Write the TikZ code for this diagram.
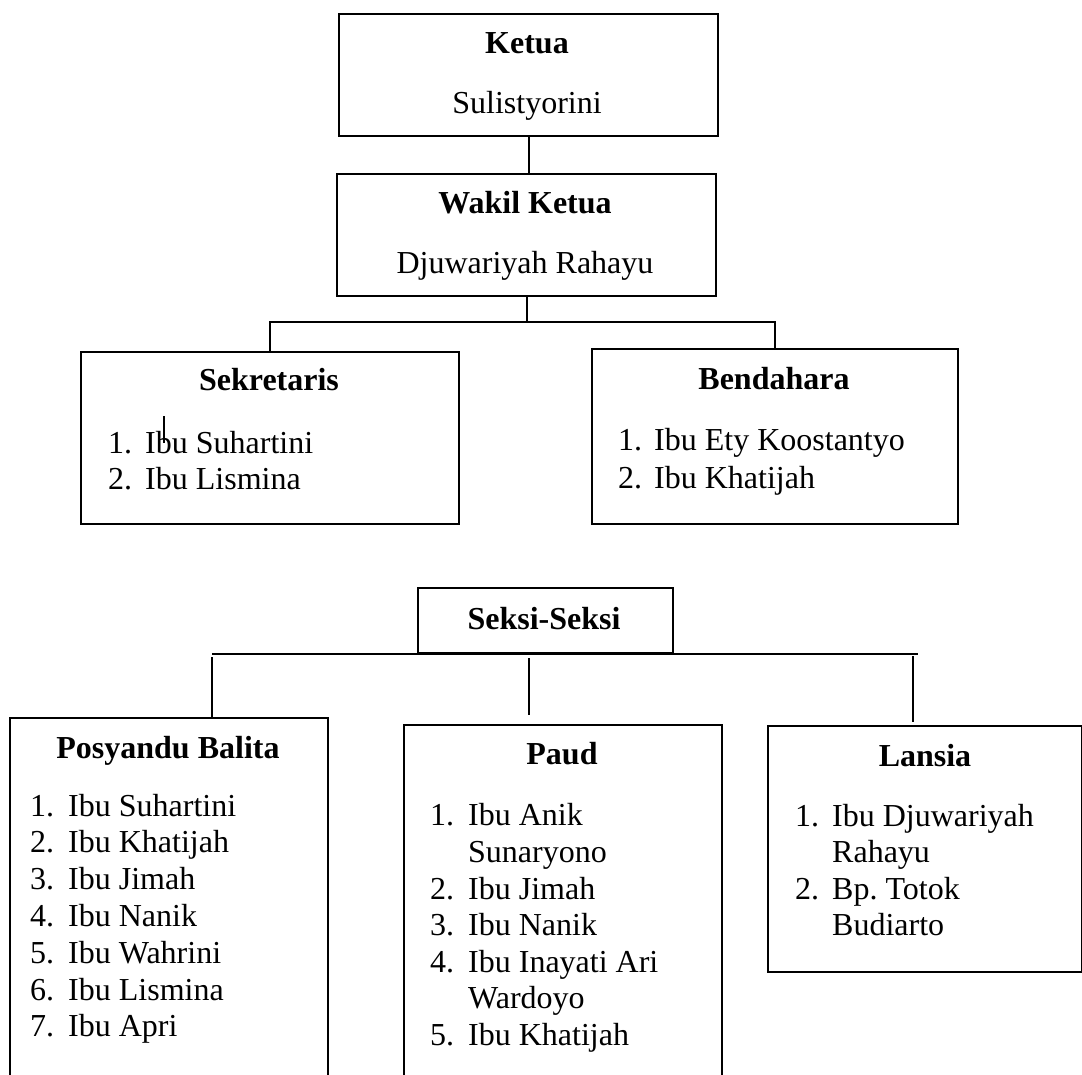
\documentclass[tikz,border=0pt]{standalone}
\usepackage{fontspec}
\setmainfont{Liberation Serif}
\begin{document}
\begin{tikzpicture}[x=1pt,y=-1pt,
  box/.style={draw, line width=2pt, inner sep=0pt, anchor=north west},
  conn/.style={line width=2pt},
  tickline/.style={line width=1.2pt},
  tx/.style={inner sep=0pt, font=\fontsize{32}{37}\selectfont},
  title/.style={inner sep=0pt, anchor=base, font=\fontsize{32}{37}\selectfont\bfseries},
  nm/.style={tx, anchor=base},
  it/.style={tx, anchor=base west}]
\clip (0,0) rectangle (1082,1075);
\fill[white] (0,0) rectangle (1082,1075);

% ---- boxes ----
\node[box, minimum width=379pt, minimum height=122pt] (ketua) at (338,13) {};
\node[box, minimum width=379pt, minimum height=122pt] (wakil) at (336,173) {};
\node[box, minimum width=378pt, minimum height=172pt] (sek) at (80,351) {};
\node[box, minimum width=366pt, minimum height=175pt] (bend) at (591,348) {};
\node[box, minimum width=255pt, minimum height=65pt] (seksi) at (417,587) {};
\node[box, minimum width=318pt, minimum height=400pt] (posy) at (9,717) {};
\node[box, minimum width=318pt, minimum height=400pt] (paud) at (403,724) {};
\node[box, minimum width=314pt, minimum height=246pt] (lans) at (767,725) {};

% ---- titles and names ----
\node[title] (tKetua) at (527,54) {Ketua};
\node[nm] (nKetua) at (527,114) {Sulistyorini};
\node[title] (tWakil) at (525,214) {Wakil Ketua};
\node[nm] (nWakil) at (525,274) {Djuwariyah Rahayu};
\node[title] (tSek) at (269,391) {Sekretaris};
\node[title] (tBend) at (774,389) {Bendahara};
\node[title] (tSeksi) at (544,629) {Seksi-Seksi};
\node[title] (tPosy) at (168,758) {Posyandu Balita};
\node[title] (tPaud) at (562,764) {Paud};
\node[title] (tLans) at (925,766) {Lansia};

% ---- Sekretaris list ----
\node[it] (s1n) at (108,453) {1.};
\node[it] (s1t) at (145,453) {Ibu Suhartini};
\node[it] (s2n) at (108,489) {2.};
\node[it] (s2t) at (145,489) {Ibu Lismina};
\coordinate (tickA) at (164,416);
\coordinate (tickB) at (164,443);
\draw[tickline] (tickA) -- (tickB);

% ---- Bendahara list ----
\node[it] (b1n) at (618,450) {1.};
\node[it] (b1t) at (654,450) {Ibu Ety Koostantyo};
\node[it] (b2n) at (618,488) {2.};
\node[it] (b2t) at (654,488) {Ibu Khatijah};

% ---- Posyandu list ----
\foreach \k/\t [count=\i from 0] in {1/Ibu Suhartini,2/Ibu Khatijah,3/Ibu Jimah,4/Ibu Nanik,5/Ibu Wahrini,6/Ibu Lismina,7/Ibu Apri}{
  \node[it] (p\k n) at (30,816+36.8*\i) {\k.};
  \node[it] (p\k t) at (68,816+36.8*\i) {\t};
}

% ---- Paud list ----
\node[it] (d1n) at (430,825) {1.};
\node[it] (d1t) at (468,825) {Ibu Anik};
\node[it] (d1c) at (468,862) {Sunaryono};
\node[it] (d2n) at (430,899) {2.};
\node[it] (d2t) at (468,899) {Ibu Jimah};
\node[it] (d3n) at (430,935) {3.};
\node[it] (d3t) at (468,935) {Ibu Nanik};
\node[it] (d4n) at (430,972) {4.};
\node[it] (d4t) at (468,972) {Ibu Inayati Ari};
\node[it] (d4c) at (468,1008) {Wardoyo};
\node[it] (d5n) at (430,1045) {5.};
\node[it] (d5t) at (468,1045) {Ibu Khatijah};

% ---- Lansia list ----
\node[it] (l1n) at (795,826) {1.};
\node[it] (l1t) at (832,826) {Ibu Djuwariyah};
\node[it] (l1c) at (832,862) {Rahayu};
\node[it] (l2n) at (795,899) {2.};
\node[it] (l2t) at (832,899) {Bp.\ Totok};
\node[it] (l2c) at (832,935) {Budiarto};

% ---- connectors ----
\draw[conn] (ketua.south) -- (ketua.south |- wakil.north);
\coordinate (busA) at (525,322);
\draw[conn] (wakil.south) -- (wakil.south |- busA);
\draw[conn] (sek.north) -- (sek.north |- busA) -- (bend.north |- busA) -- (bend.north);

\coordinate (busL) at (212,653.5);
\coordinate (busR) at (918,653.5);
\draw[conn] (busL) -- (busR);
\coordinate (vL) at (212,657);
\coordinate (vM) at (529,658);
\coordinate (vMe) at (529,715);
\coordinate (vR) at (913,656);
\coordinate (vRe) at (913,722);
\draw[conn] (vL) -- (vL |- posy.north);
\draw[conn] (vM) -- (vMe);
\draw[conn] (vR) -- (vRe);
\end{tikzpicture}
\end{document}
